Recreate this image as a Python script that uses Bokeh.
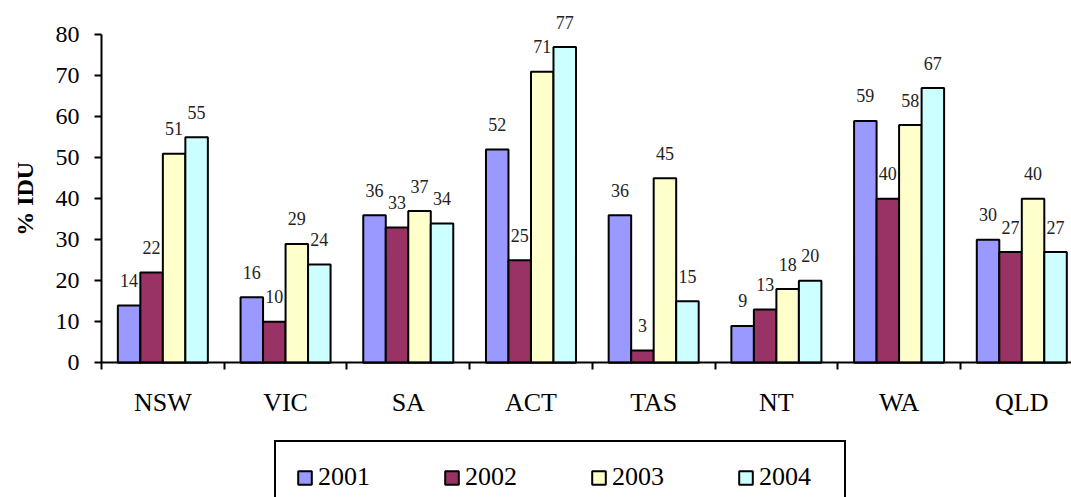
from bokeh.plotting import figure
from bokeh.models import (ColumnDataSource, Range1d, FixedTicker, Legend, LegendItem, Label)
from bokeh.transform import dodge
from bokeh.core.properties import value
from bokeh.embed import file_html
from bokeh.resources import INLINE
import math

categories = ["NSW", "VIC", "SA", "ACT", "TAS", "NT", "WA", "QLD"]
years = ["2001", "2002", "2003", "2004"]
v2001 = [14, 16, 36, 52, 36, 9, 59, 30]
v2002 = [22, 10, 33, 25, 3, 13, 40, 27]
v2003 = [51, 29, 37, 71, 45, 18, 58, 40]
v2004 = [55, 24, 34, 77, 15, 20, 67, 27]
y_ticks = [0, 10, 20, 30, 40, 50, 60, 70, 80]
colors = ["#9999FF", "#993366", "#FFFFCC", "#CCFFFF"]

xc = [i + 0.5 for i in range(len(categories))]
src = ColumnDataSource(dict(xc=xc, v2001=v2001, v2002=v2002, v2003=v2003, v2004=v2004,
                            l2001=[str(v) for v in v2001], l2002=[str(v) for v in v2002],
                            l2003=[str(v) for v in v2003], l2004=[str(v) for v in v2004]))

FONT = "Liberation Serif"
bw = 0.1834
X_END = 7.905

p = figure(width=1071, height=497, x_range=Range1d(-0.8231, X_END), y_range=Range1d(-32.85, 88.37),
           min_border_left=0, min_border_right=0, min_border_top=0, min_border_bottom=0,
           toolbar_location=None, output_backend="svg")
p.outline_line_color = None
p.grid.grid_line_color = None

offsets = [-1.5 * bw, -0.5 * bw, 0.5 * bw, 1.5 * bw]
items = []
for yr, col, off in zip(years, colors, offsets):
    r = p.vbar(x=dodge("xc", off, range=p.x_range), top="v" + yr, bottom=0, width=bw, source=src,
               fill_color=col, line_color="black", line_width=2)
    p.text(x=dodge("xc", off, range=p.x_range), y="v" + yr, text="l" + yr, source=src,
           text_font=value(FONT), text_font_size="18px", text_color="#222222",
           text_align="center", text_baseline="middle", y_offset=-25)
    items.append(LegendItem(label=yr, renderers=[r]))

# x axis drawn at y=0
xa = p.xaxis[0]
xa.fixed_location = 0
xa.bounds = (0, X_END)
xa.ticker = FixedTicker(ticks=xc, minor_ticks=list(range(len(categories) + 1)))
xa.major_label_overrides = {x: c for x, c in zip(xc, categories)}
xa.major_tick_out = 0
xa.major_tick_in = 0
xa.minor_tick_out = 7
xa.minor_tick_in = 0
xa.minor_tick_line_color = "black"
xa.minor_tick_line_width = 2
xa.axis_line_color = "black"
xa.axis_line_width = 2
xa.major_label_standoff = 18
xa.major_label_text_font = FONT
xa.major_label_text_font_size = "26px"
xa.major_label_text_color = "black"

ya = p.yaxis[0]
ya.fixed_location = 0
ya.ticker = FixedTicker(ticks=y_ticks, minor_ticks=[])
ya.bounds = (0, 80)
ya.major_tick_out = 7
ya.major_tick_in = 0
ya.major_tick_line_width = 2
ya.major_tick_line_color = "black"
ya.axis_line_width = 2
ya.axis_line_color = "black"
ya.major_label_standoff = 15
ya.major_label_text_font = FONT
ya.major_label_text_font_size = "24px"
ya.major_label_text_color = "black"

ylab = Label(x=-0.6275, y=40, text="% IDU", angle=math.pi / 2,
             text_font=FONT, text_font_size="24px", text_font_style="bold",
             text_align="center", text_baseline="middle", text_color="black")
p.add_layout(ylab)

legend = Legend(items=items, orientation="horizontal", location=(274, -17),
                glyph_width=17, glyph_height=17, label_standoff=5, label_width=65,
                spacing=60, padding=20,
                label_text_font=FONT, label_text_font_size="26px", label_text_color="black",
                border_line_color="black", border_line_width=2, border_line_alpha=1,
                background_fill_color="white", background_fill_alpha=1, margin=0)
p.add_layout(legend)

open("out.html", "w").write(file_html(p, INLINE))
